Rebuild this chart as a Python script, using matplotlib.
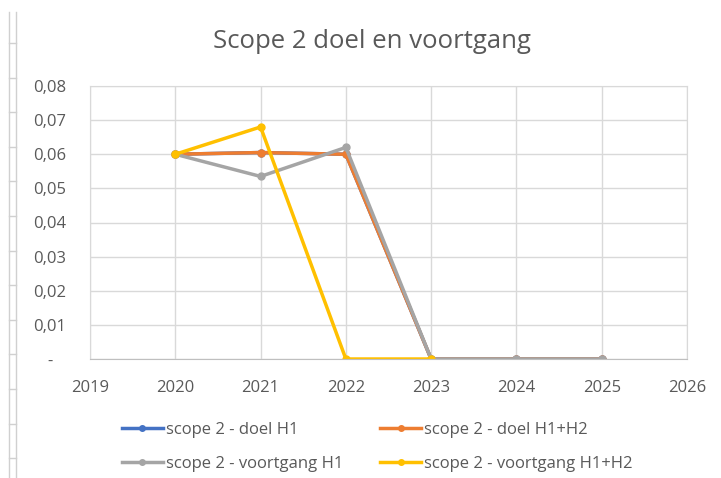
import numpy as np
import matplotlib.pyplot as plt
from matplotlib.lines import Line2D

plt.rcParams['font.family'] = ['Open Sans', 'DejaVu Sans']

years = [2020, 2021, 2022, 2023, 2024, 2025]
doel_h1 = [0.06, 0.0605, 0.06, 0.0, 0.0, 0.0]
doel_h1h2 = [0.06, 0.0605, 0.06, 0.0, 0.0, 0.0]
voortgang_h1 = [0.06, 0.0535, 0.062, 0.0, 0.0, 0.0]
voortgang_h1h2 = [0.06, 0.068, 0.0, 0.0]

labels = ['scope 2 - doel H1', 'scope 2 - doel H1+H2',
          'scope 2 - voortgang H1', 'scope 2 - voortgang H1+H2']
colors = ['#4472c4', '#ed7d31', '#a5a5a5', '#ffc000']
series = [doel_h1, doel_h1h2, voortgang_h1, voortgang_h1h2]

fig = plt.figure(figsize=(7.21, 4.78), dpi=100)
ax = fig.add_axes([90 / 721, 1 - 359 / 478, 597 / 721, 273 / 478])

for vals, c, lab in zip(series, colors, labels):
    ax.plot(years[:len(vals)], vals, color=c, lw=2.5, marker='o', ms=5,
            label=lab, solid_joinstyle='round')

ax.set_xlim(2019, 2026)
ax.set_ylim(0, 0.08)
ax.set_xticks(range(2019, 2027))
ax.set_yticks(np.arange(0, 0.081, 0.01))
# accounting format: zero shown as a dash, padded
ax.set_yticklabels(['-   '] + [f'0,0{i}' for i in range(1, 9)])
ax.grid(True, color='#d9d9d9', lw=1)
ax.set_axisbelow(True)
for s in ax.spines.values():
    s.set_color('#d9d9d9')
ax.spines['bottom'].set_color('#bfbfbf')
ax.tick_params(length=0, colors='#595959', labelsize=12)
ax.tick_params(axis='x', pad=15)
ax.tick_params(axis='y', pad=17)

fig.text(372 / 721, 1 - 42 / 478, 'Scope 2 doel en voortgang', ha='center',
         va='center', fontsize=18.5, color='#595959')

# legend filled row by row like Excel
order = [0, 2, 1, 3]
handles = [Line2D([], [], color=colors[i], lw=2.5, marker='o', ms=4) for i in order]
fig.legend(handles, [labels[i] for i in order], ncol=2, loc='center',
           bbox_to_anchor=(377 / 721, 1 - 447 / 478),
           frameon=False, fontsize=12, labelcolor='#595959', handlelength=2.5,
           handletextpad=0.15, columnspacing=2.2, labelspacing=1.05)

# spreadsheet row edge at the left
fig.add_artist(Line2D([9 / 721, 9 / 721], [0, 1 - 12 / 478], color='#d0d0d0', lw=1))
fig.add_artist(Line2D([16 / 721, 16 / 721], [0, 1 - 12 / 478], color='#d0d0d0', lw=1))
for yy in np.arange(43, 478, 34.6):
    fig.add_artist(Line2D([9 / 721, 16 / 721], [1 - yy / 478] * 2, color='#d0d0d0', lw=1))

fig.savefig('out.png', dpi=100)
